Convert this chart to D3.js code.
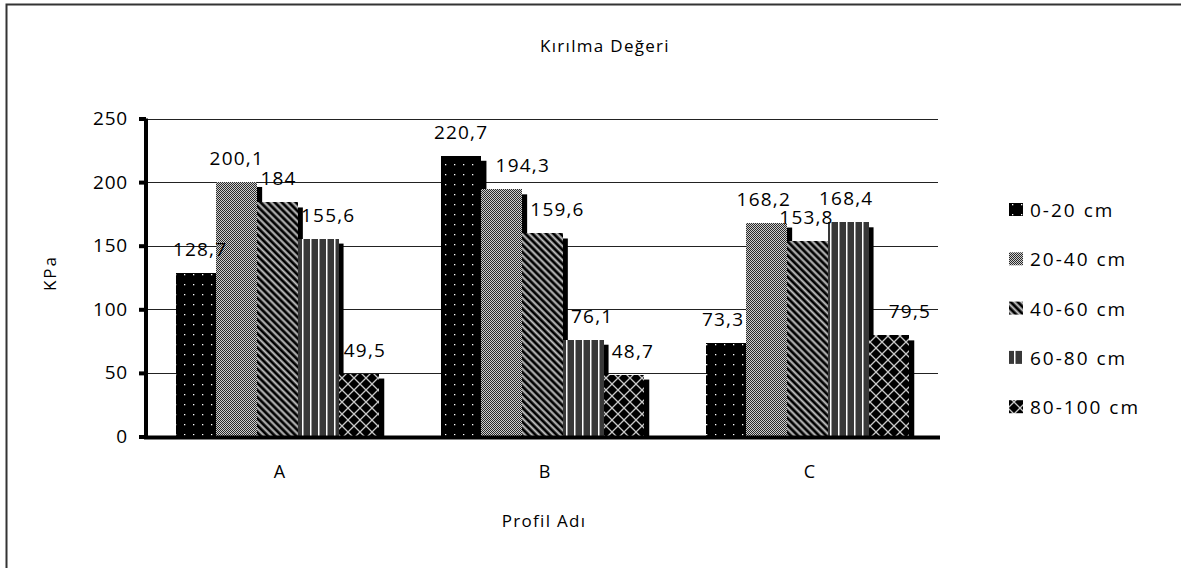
<!DOCTYPE html>
<html>
<head>
<meta charset="utf-8">
<script src="https://cdn.jsdelivr.net/npm/d3@7"></script>
<style>
  html, body { margin: 0; padding: 0; background: #fff; }
  svg { display: block; }
  text { font-family: "Open Sans", "Noto Sans", sans-serif; fill: #000; }
</style>
</head>
<body>
<svg id="chart" width="1181" height="568"></svg>
<script>
// Profile names, depth classes and breaking values (kPa)
const categories = ["A", "B", "C"];
const depths = ["0-20 cm", "20-40 cm", "40-60 cm", "60-80 cm", "80-100 cm"];
const values = {
  "0-20 cm":   [128.7, 220.7, 73.3],
  "20-40 cm":  [200.1, 194.3, 168.2],
  "40-60 cm":  [184, 159.6, 153.8],
  "60-80 cm":  [155.6, 76.1, 168.4],
  "80-100 cm": [49.5, 48.7, 79.5]
};
const yTicks = [0, 50, 100, 150, 200, 250];

// Horizontal nudges (px) that keep neighbouring value labels apart
const labelShift = {
  "0-20 cm":   [3, -1, -4],
  "20-40 cm":  [-1, 20, -4],
  "40-60 cm":  [0, 14, -2],
  "60-80 cm":  [9, 8, -3],
  "80-100 cm": [5, 8, 20]
};

const svg = d3.select("#chart");
const defs = svg.append("defs");

// Monochrome fill patterns, one per depth class
function pat(id, w, h) {
  return defs.append("pattern").attr("id", id)
    .attr("patternUnits", "userSpaceOnUse").attr("width", w).attr("height", h);
}
// dots on black
let p = pat("p0", 9, 10);
p.append("rect").attr("width", 9).attr("height", 10).attr("fill", "#000");
p.append("rect").attr("x", 4).attr("y", 4).attr("width", 1.3).attr("height", 1.3).attr("fill", "#fff");
// fine checker
p = pat("p1", 2, 2);
p.append("rect").attr("width", 2).attr("height", 2).attr("fill", "#cfcfcf");
p.append("rect").attr("width", 1).attr("height", 1).attr("fill", "#2a2a2a");
p.append("rect").attr("x", 1).attr("y", 1).attr("width", 1).attr("height", 1).attr("fill", "#2a2a2a");
// diagonal stripes
p = pat("p2", 5, 5).attr("patternTransform", "rotate(-45)");
p.append("rect").attr("width", 5).attr("height", 5).attr("fill", "#000");
p.append("rect").attr("x", 2.5).attr("width", 0.8).attr("height", 5).attr("fill", "#999");
p.append("rect").attr("x", 3.3).attr("width", 0.9).attr("height", 5).attr("fill", "#fff");
p.append("rect").attr("x", 4.2).attr("width", 0.8).attr("height", 5).attr("fill", "#999");
// vertical stripes
p = pat("p3", 8, 8);
p.append("rect").attr("width", 8).attr("height", 8).attr("fill", "#383838");
p.append("rect").attr("x", 6).attr("width", 1).attr("height", 8).attr("fill", "#fff");
p.append("rect").attr("x", 7).attr("width", 1).attr("height", 8).attr("fill", "#9a9a9a");
// diamond lattice
p = pat("p4", 12, 12);
p.append("rect").attr("width", 12).attr("height", 12).attr("fill", "#000");
p.append("path").attr("d", "M0,0L12,12M12,0L0,12").attr("stroke", "#c8c8c8").attr("stroke-width", 1.3);
const fills = d3.scaleOrdinal().domain(depths).range(["url(#p0)", "url(#p1)", "url(#p2)", "url(#p3)", "url(#p4)"]);

// Outer frame (top and left edges)
svg.append("path").attr("d", "M6.5,600V4.5H1200")
  .attr("fill", "none").attr("stroke", "#333").attr("stroke-width", 2);

// Scales
const x0 = d3.scaleBand().domain(categories).range([145, 940]);
const gw = x0.bandwidth() * 0.768;
const x1 = d3.scaleBand().domain(depths)
  .range([(x0.bandwidth() - gw) / 2, (x0.bandwidth() + gw) / 2]);
const y = d3.scaleLinear().domain([0, 250]).range([436.5, 118.5]);

// Grid lines
svg.append("g").selectAll("line").data(yTicks.filter(d => d > 0)).join("line")
  .attr("x1", 146).attr("x2", 938)
  .attr("y1", d => Math.round(y(d)) + 0.5).attr("y2", d => Math.round(y(d)) + 0.5)
  .attr("stroke", "#222").attr("stroke-width", 1);

// Bars with drop shadows, drawn series by series
const sh = 5;
const bars = svg.append("g");
depths.forEach(dep => {
  categories.forEach((cat, i) => {
    const v = values[dep][i];
    const bx = x0(cat) + x1(dep);
    const by = y(v);
    const bw = x1.bandwidth();
    bars.append("rect").attr("x", bx + sh).attr("y", by + sh)
      .attr("width", bw).attr("height", Math.max(0, y(0) - by - sh)).attr("fill", "#000");
    bars.append("rect").attr("x", bx).attr("y", by)
      .attr("width", bw).attr("height", y(0) - by).attr("fill", fills(dep))
      .attr("shape-rendering", "crispEdges");
  });
});

// Value labels
const labels = svg.append("g");
depths.forEach(dep => {
  categories.forEach((cat, i) => {
    const v = values[dep][i];
    labels.append("text")
      .attr("x", x0(cat) + x1(dep) + x1.bandwidth() / 2 + labelShift[dep][i] + 1)
      .attr("y", y(v) - 17)
      .attr("text-anchor", "middle")
      .attr("font-size", 19).attr("letter-spacing", 1.2)
      .text(String(v).replace(".", ","));
  });
});

// Axes
const yAxis = svg.append("g").attr("transform", "translate(146,0)")
  .call(d3.axisLeft(y).tickValues(yTicks).tickSize(7).tickPadding(11).tickFormat(d3.format("d")));
yAxis.select(".domain").attr("stroke", "#000").attr("stroke-width", 4)
  .attr("d", `M0,${y(250)}V${y(0) + 2}`);
yAxis.selectAll(".tick line").attr("stroke", "#000").attr("stroke-width", 4);
yAxis.selectAll(".tick text").attr("font-size", 19).attr("letter-spacing", 0.8)
  .attr("font-family", "'Open Sans', sans-serif").attr("fill", "#000");

const xAxis = svg.append("g").attr("transform", `translate(0,${y(0) + 1})`)
  .call(d3.axisBottom(x0).tickSize(0).tickPadding(28));
xAxis.select(".domain").attr("stroke", "#000").attr("stroke-width", 4)
  .attr("d", "M144,0H940");
xAxis.selectAll(".tick text").attr("font-size", 18).attr("dx", 2)
  .attr("font-family", "'Open Sans', sans-serif").attr("fill", "#000");

// Titles
svg.append("text").attr("x", 605).attr("y", 52).attr("text-anchor", "middle")
  .attr("font-size", 17).attr("letter-spacing", 1.3).text("Kırılma Değeri");
svg.append("text").attr("x", 544).attr("y", 527).attr("text-anchor", "middle")
  .attr("font-size", 17).attr("letter-spacing", 1.3).text("Profil Adı");
svg.append("text").attr("transform", "translate(56,273) rotate(-90)").attr("text-anchor", "middle")
  .attr("font-size", 17).attr("letter-spacing", 2).text("KPa");

// Legend
const legend = svg.append("g");
depths.forEach((dep, i) => {
  const cy = 210 + i * 49.3;
  legend.append("rect").attr("x", 1009).attr("y", cy - 7).attr("width", 14).attr("height", 13)
    .attr("fill", fills(dep));
  legend.append("text").attr("x", 1030).attr("y", cy + 7)
    .attr("font-size", 19).attr("letter-spacing", 2).text(dep);
});
</script>
</body>
</html>
